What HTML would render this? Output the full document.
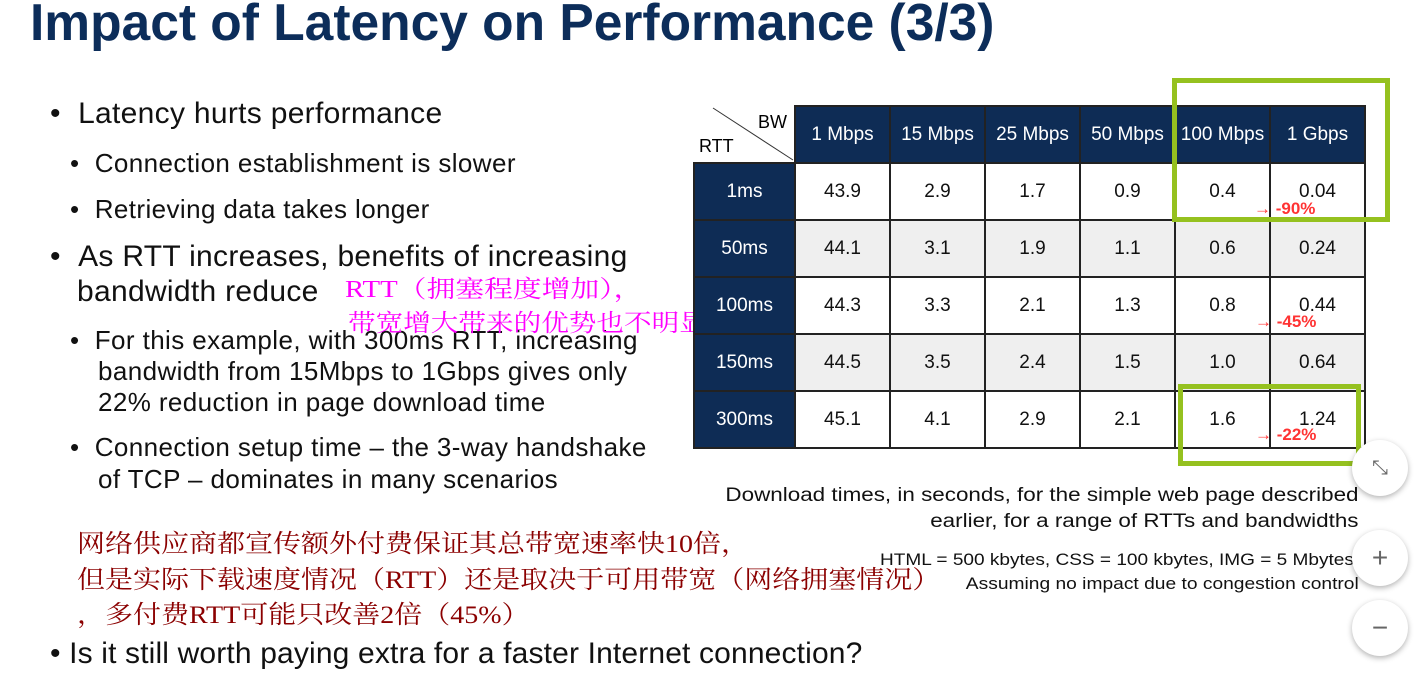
<!DOCTYPE html>
<html><head><meta charset="utf-8"><style>
body{margin:0;width:1422px;height:687px;background:#fff;position:relative;overflow:hidden;font-family:"Liberation Sans","Noto Sans CJK SC",sans-serif;color:#111}
.a{position:absolute;white-space:nowrap}
.t{font-weight:bold;font-size:51.5px;color:#0c2d5a;left:30px;top:-8px}
.b1{font-size:30px;letter-spacing:.3px}
.b2{font-size:26px;letter-spacing:.4px}
.cn{font-family:"Liberation Serif","Noto Serif CJK SC",serif;transform-origin:left top}
table{position:absolute;left:693px;top:105px;border-collapse:collapse;font-size:19px}
td{border:2px solid #222;text-align:center;width:93px;height:55px;padding:0}
.h{background:#0e2c55;color:#fff}
.g{background:#efefef}
.w{background:#fff}
.gb{position:absolute;border:5px solid #95c11f}
.red{position:absolute;color:#f33;font-weight:bold;font-size:17px}
.btn{position:absolute;width:56px;height:56px;border-radius:50%;background:#fff;box-shadow:0 2px 6px rgba(0,0,0,.3);left:1352px;text-align:center;line-height:56px;font-size:28px;color:#666}
.sx{transform:scaleX(1.13);transform-origin:right top}
</style></head><body>
<div class="a t">Impact of Latency on Performance (3/3)</div>
<div class="a b1" style="left:50px;top:97px">• &nbsp;Latency hurts performance</div>
<div class="a b2" style="left:70px;top:148px">• &nbsp;Connection establishment is slower</div>
<div class="a b2" style="left:70px;top:194px">• &nbsp;Retrieving data takes longer</div>
<div class="a b1" style="left:50px;top:240px">• &nbsp;As RTT increases, benefits of increasing</div>
<div class="a b1" style="left:77px;top:275px">bandwidth reduce</div>
<div class="a b2" style="left:70px;top:325px">• &nbsp;For this example, with 300ms RTT, increasing</div>
<div class="a b2" style="left:98px;top:356px">bandwidth from 15Mbps to 1Gbps gives only</div>
<div class="a b2" style="left:98px;top:387px">22% reduction in page download time</div>
<div class="a b2" style="left:70px;top:432px">• &nbsp;Connection setup time – the 3-way handshake</div>
<div class="a b2" style="left:98px;top:464px">of TCP – dominates in many scenarios</div>
<div class="a cn" style="left:345px;top:269px;font-size:24px;color:#f0f;transform:scaleX(1.2)">RTT（拥塞程度增加），</div>
<div class="a cn" style="left:348px;top:303px;font-size:24px;color:#f0f;transform:scaleX(1.15)">带宽增大带来的优势也不明显</div>
<div class="a cn" style="left:77px;top:524px;font-size:25px;color:#8b0000;transform:scaleX(1.12)">网络供应商都宣传额外付费保证其总带宽速率快10倍，</div>
<div class="a cn" style="left:77px;top:560px;font-size:25px;color:#8b0000;transform:scaleX(1.12)">但是实际下载速度情况（RTT）还是取决于可用带宽（网络拥塞情况）</div>
<div class="a cn" style="left:77px;top:595px;font-size:25px;color:#8b0000;transform:scaleX(1.12)">，多付费RTT可能只改善2倍（45%）</div>
<div class="a" style="left:50px;top:637px;font-size:30px;letter-spacing:.15px">• Is it still worth paying extra for a faster Internet connection?</div>

<svg class="a" style="left:693px;top:100px" width="105" height="62"><line x1="20" y1="8" x2="100" y2="60" stroke="#333" stroke-width="1"/><text x="65" y="28" font-family="Liberation Sans" font-size="18">BW</text><text x="6" y="52" font-family="Liberation Sans" font-size="18">RTT</text></svg>
<table>
<tr><td style="border:none;background:transparent;width:100px"></td><td class="h">1 Mbps</td><td class="h">15 Mbps</td><td class="h">25 Mbps</td><td class="h">50 Mbps</td><td class="h">100 Mbps</td><td class="h">1 Gbps</td></tr>
<tr><td class="h">1ms</td><td class="w">43.9</td><td class="w">2.9</td><td class="w">1.7</td><td class="w">0.9</td><td class="w">0.4</td><td class="w">0.04</td></tr>
<tr><td class="h">50ms</td><td class="g">44.1</td><td class="g">3.1</td><td class="g">1.9</td><td class="g">1.1</td><td class="g">0.6</td><td class="g">0.24</td></tr>
<tr><td class="h">100ms</td><td class="w">44.3</td><td class="w">3.3</td><td class="w">2.1</td><td class="w">1.3</td><td class="w">0.8</td><td class="w">0.44</td></tr>
<tr><td class="h">150ms</td><td class="g">44.5</td><td class="g">3.5</td><td class="g">2.4</td><td class="g">1.5</td><td class="g">1.0</td><td class="g">0.64</td></tr>
<tr><td class="h">300ms</td><td class="w">45.1</td><td class="w">4.1</td><td class="w">2.9</td><td class="w">2.1</td><td class="w">1.6</td><td class="w">1.24</td></tr>
</table>
<div class="red" style="left:1254px;top:199px"><span style="font-weight:normal">→</span> -90%</div>
<div class="red" style="left:1255px;top:312px"><span style="font-weight:normal">→</span> -45%</div>
<div class="red" style="left:1255px;top:425px"><span style="font-weight:normal">→</span> -22%</div>
<div class="gb" style="left:1172px;top:78px;width:208px;height:134px"></div>
<div class="gb" style="left:1178px;top:384px;width:173px;height:72px"></div>
<div class="a" style="right:63px;top:483px;font-size:19px;text-align:right;line-height:26px;transform:scaleX(1.18);transform-origin:right top">Download times, in seconds, for the simple web page described<br>earlier, for a range of RTTs and bandwidths</div>
<div class="a" style="left:880px;top:550px;font-size:17px;transform:scaleX(1.12);transform-origin:left top">HTML = 500 kbytes, CSS = 100 kbytes, IMG = 5 Mbytes</div>
<div class="a sx" style="right:63px;top:574px;font-size:17px">Assuming no impact due to congestion control</div>
<div class="btn" style="top:440px;font-size:20px">⤡</div>
<div class="btn" style="top:530px">+</div>
<div class="btn" style="top:600px">−</div>
</body></html>
